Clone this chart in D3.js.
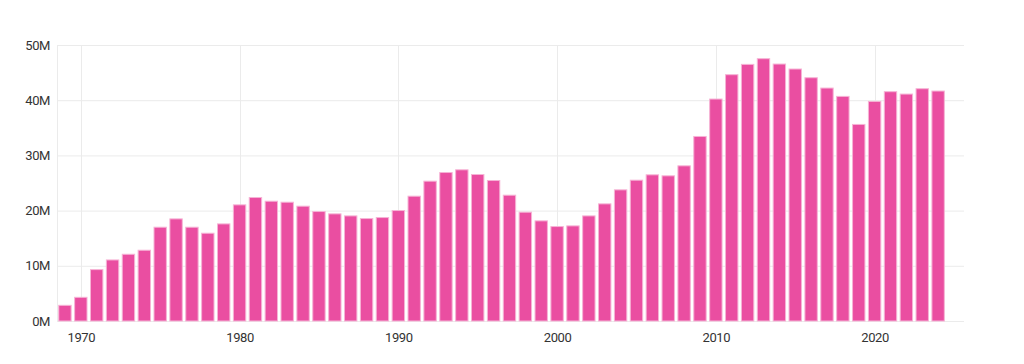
<!DOCTYPE html>
<html>
<head>
<meta charset="utf-8">
<script src="https://cdn.jsdelivr.net/npm/d3@7"></script>
<style>
  body { margin: 0; background: #fff; }
  .tick text { font-family: Roboto, sans-serif; font-size: 13px; letter-spacing: -0.4px; fill: #333; }
</style>
</head>
<body>
<svg id="chart"></svg>
<script>
// Chart values
const years = d3.range(1969, 2025);
const values = [
  2.84, 4.29, 9.31, 11.06, 12.09, 12.82, 16.99, 18.50, 16.99, 15.90,
  17.59, 21.04, 22.37, 21.70, 21.52, 20.80, 19.83, 19.41, 19.04, 18.56,
  18.74, 20.01, 22.61, 25.33, 26.90, 27.39, 26.54, 25.45, 22.79, 19.71,
  18.14, 17.11, 17.23, 19.04, 21.22, 23.76, 25.51, 26.48, 26.30, 28.11,
  33.43, 40.21, 44.62, 46.49, 47.52, 46.55, 45.65, 44.07, 42.20, 40.69,
  35.61, 39.78, 41.54, 41.11, 42.08, 41.66
].map(v => v * 1e6);
const yTicks = [0, 10e6, 20e6, 30e6, 40e6, 50e6];
const xTicks = [1970, 1980, 1990, 2000, 2010, 2020];

const data = years.map((y, i) => ({ year: y, value: values[i] }));

const svgWidth = 1024;
const svgHeight = 364;
const margin = { top: 45, right: 60, bottom: 43, left: 57 };
const width = svgWidth - margin.left - margin.right;
const height = svgHeight - margin.top - margin.bottom;

const svg = d3.select("#chart")
    .attr("width", svgWidth)
    .attr("height", svgHeight);

const chart = svg.append("g")
    .attr("transform", `translate(${margin.left},${margin.top})`);

// Scales
const x = d3.scaleLinear()
    .domain([1968.5, 2025.63])
    .range([0, width]);

const y = d3.scaleLinear()
    .domain([0, 50e6])
    .range([height, 0]);

const step = x(1970) - x(1969);
const barWidth = step * 0.78;

// Gridlines
chart.append("g")
    .selectAll("line")
    .data(yTicks)
    .join("line")
    .attr("x1", 0)
    .attr("x2", width)
    .attr("y1", d => y(d) + 0.5)
    .attr("y2", d => y(d) + 0.5)
    .attr("stroke", "#ebebeb");

chart.append("g")
    .selectAll("line")
    .data(xTicks)
    .join("line")
    .attr("x1", d => Math.round(x(d)) + 0.5)
    .attr("x2", d => Math.round(x(d)) + 0.5)
    .attr("y1", 0)
    .attr("y2", height)
    .attr("stroke", "#ebebeb");

chart.append("line")
    .attr("x1", 0.5).attr("x2", 0.5)
    .attr("y1", 0).attr("y2", height)
    .attr("stroke", "#ebebeb");

// Bars
chart.selectAll(".bar")
    .data(data)
    .join("rect")
    .attr("class", "bar")
    .attr("x", d => x(d.year) - barWidth / 2)
    .attr("y", d => y(d.value))
    .attr("width", barWidth)
    .attr("height", d => height - y(d.value))
    .attr("fill", "#ea4ea1")
    .attr("stroke", "#f6b3d5")
    .attr("stroke-width", 1);

// Axes
chart.append("g")
    .attr("transform", `translate(0,${height})`)
    .call(d3.axisBottom(x).tickValues(xTicks).tickFormat(d3.format("d")).tickSize(0).tickPadding(12))
    .call(g => g.select(".domain").remove());

chart.append("g")
    .call(d3.axisLeft(y).tickValues(yTicks).tickFormat(d => (d / 1e6) + "M").tickSize(0).tickPadding(7))
    .call(g => g.select(".domain").remove());
</script>
</body>
</html>
